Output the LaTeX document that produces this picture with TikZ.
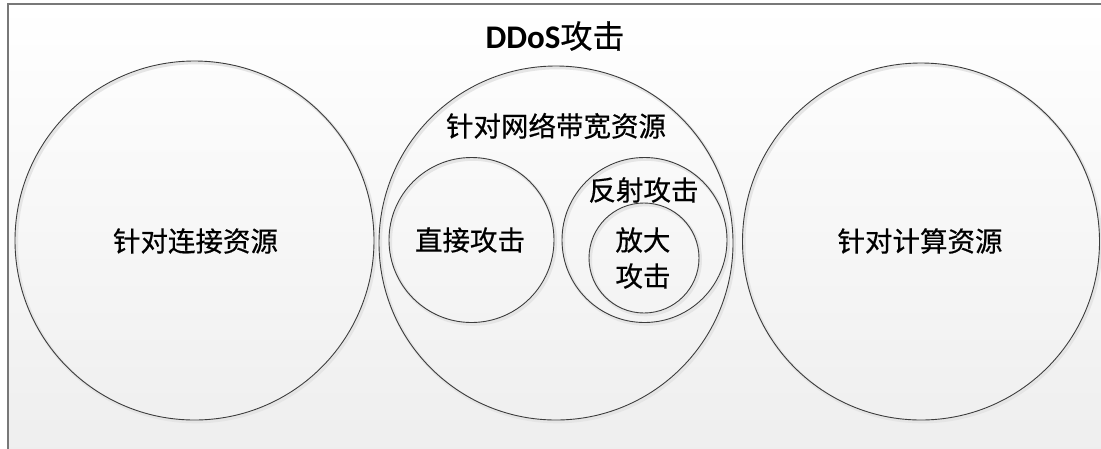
\documentclass[tikz,border=0pt]{standalone}
\usepackage{fontspec}
\setmainfont{Carlito}
\newfontfamily\cjk[FakeBold=0.5]{Noto Sans CJK SC}
\definecolor{bgbot}{RGB}{238,238,238}
\definecolor{framec}{RGB}{120,120,120}
\definecolor{linec}{RGB}{60,60,60}
\tikzset{
  ring/.style={circle, draw=linec, line width=0.9pt, inner sep=0pt, outer sep=0pt},
  ringshadow/.style={circle, draw=black!10, line width=3pt, inner sep=0pt},
  lab/.style={font=\cjk\fontsize{27.5}{30}\selectfont, inner sep=0pt, align=center},
}
\begin{document}
\begin{tikzpicture}[x=1pt,y=-1pt]
\useasboundingbox (0,0) rectangle (1101,448);
\clip (0,0) rectangle (1101,448);
% background frame
\shade[top color=white, bottom color=bgbot] (8,4) rectangle (1110,460);
\draw[framec, line width=1.6pt] (8,4) rectangle (1110,460);
% shadows
\foreach \cx/\cy/\r in {194.5/240.5/179.5, 556/243/177, 921/241.5/178.5, 471.5/240/82.5, 644.5/240/82.5, 644/258/55}{
  \node[ringshadow, minimum size=2*\r pt] at (\cx+1.5,\cy+1.8) {};
}
% circles
\node[ring, minimum size=359pt] (conn) at (194.5,240.5) {};
\node[ring, minimum size=354pt] (band) at (556,243) {};
\node[ring, minimum size=357pt] (comp) at (921,241.5) {};
\node[ring, minimum size=165pt] (direct) at (471.5,240) {};
\node[ring, minimum size=165pt] (refl) at (644.5,240) {};
\node[ring, minimum size=110pt] (ampl) at (644,258) {};
% labels
\node[inner sep=0pt, font=\fontsize{33}{36}\selectfont] (title) at (555,36) {\textbf{DDoS}{\cjk\fontsize{32}{36}\selectfont 攻击}};
\node[lab] (tconn) at (195.5,241) {针对连接资源};
\node[lab] (tband) at (556,126) {针对网络带宽资源};
\node[lab] (tcomp) at (920,241) {针对计算资源};
\node[lab] (tdirect) at (470,240) {直接攻击};
\node[lab] (trefl) at (643.5,190) {反射攻击};
\node[lab, font=\cjk\fontsize{27.5}{36}\selectfont] (tampl) at (643,258) {放大\\攻击};
\end{tikzpicture}
\end{document}
